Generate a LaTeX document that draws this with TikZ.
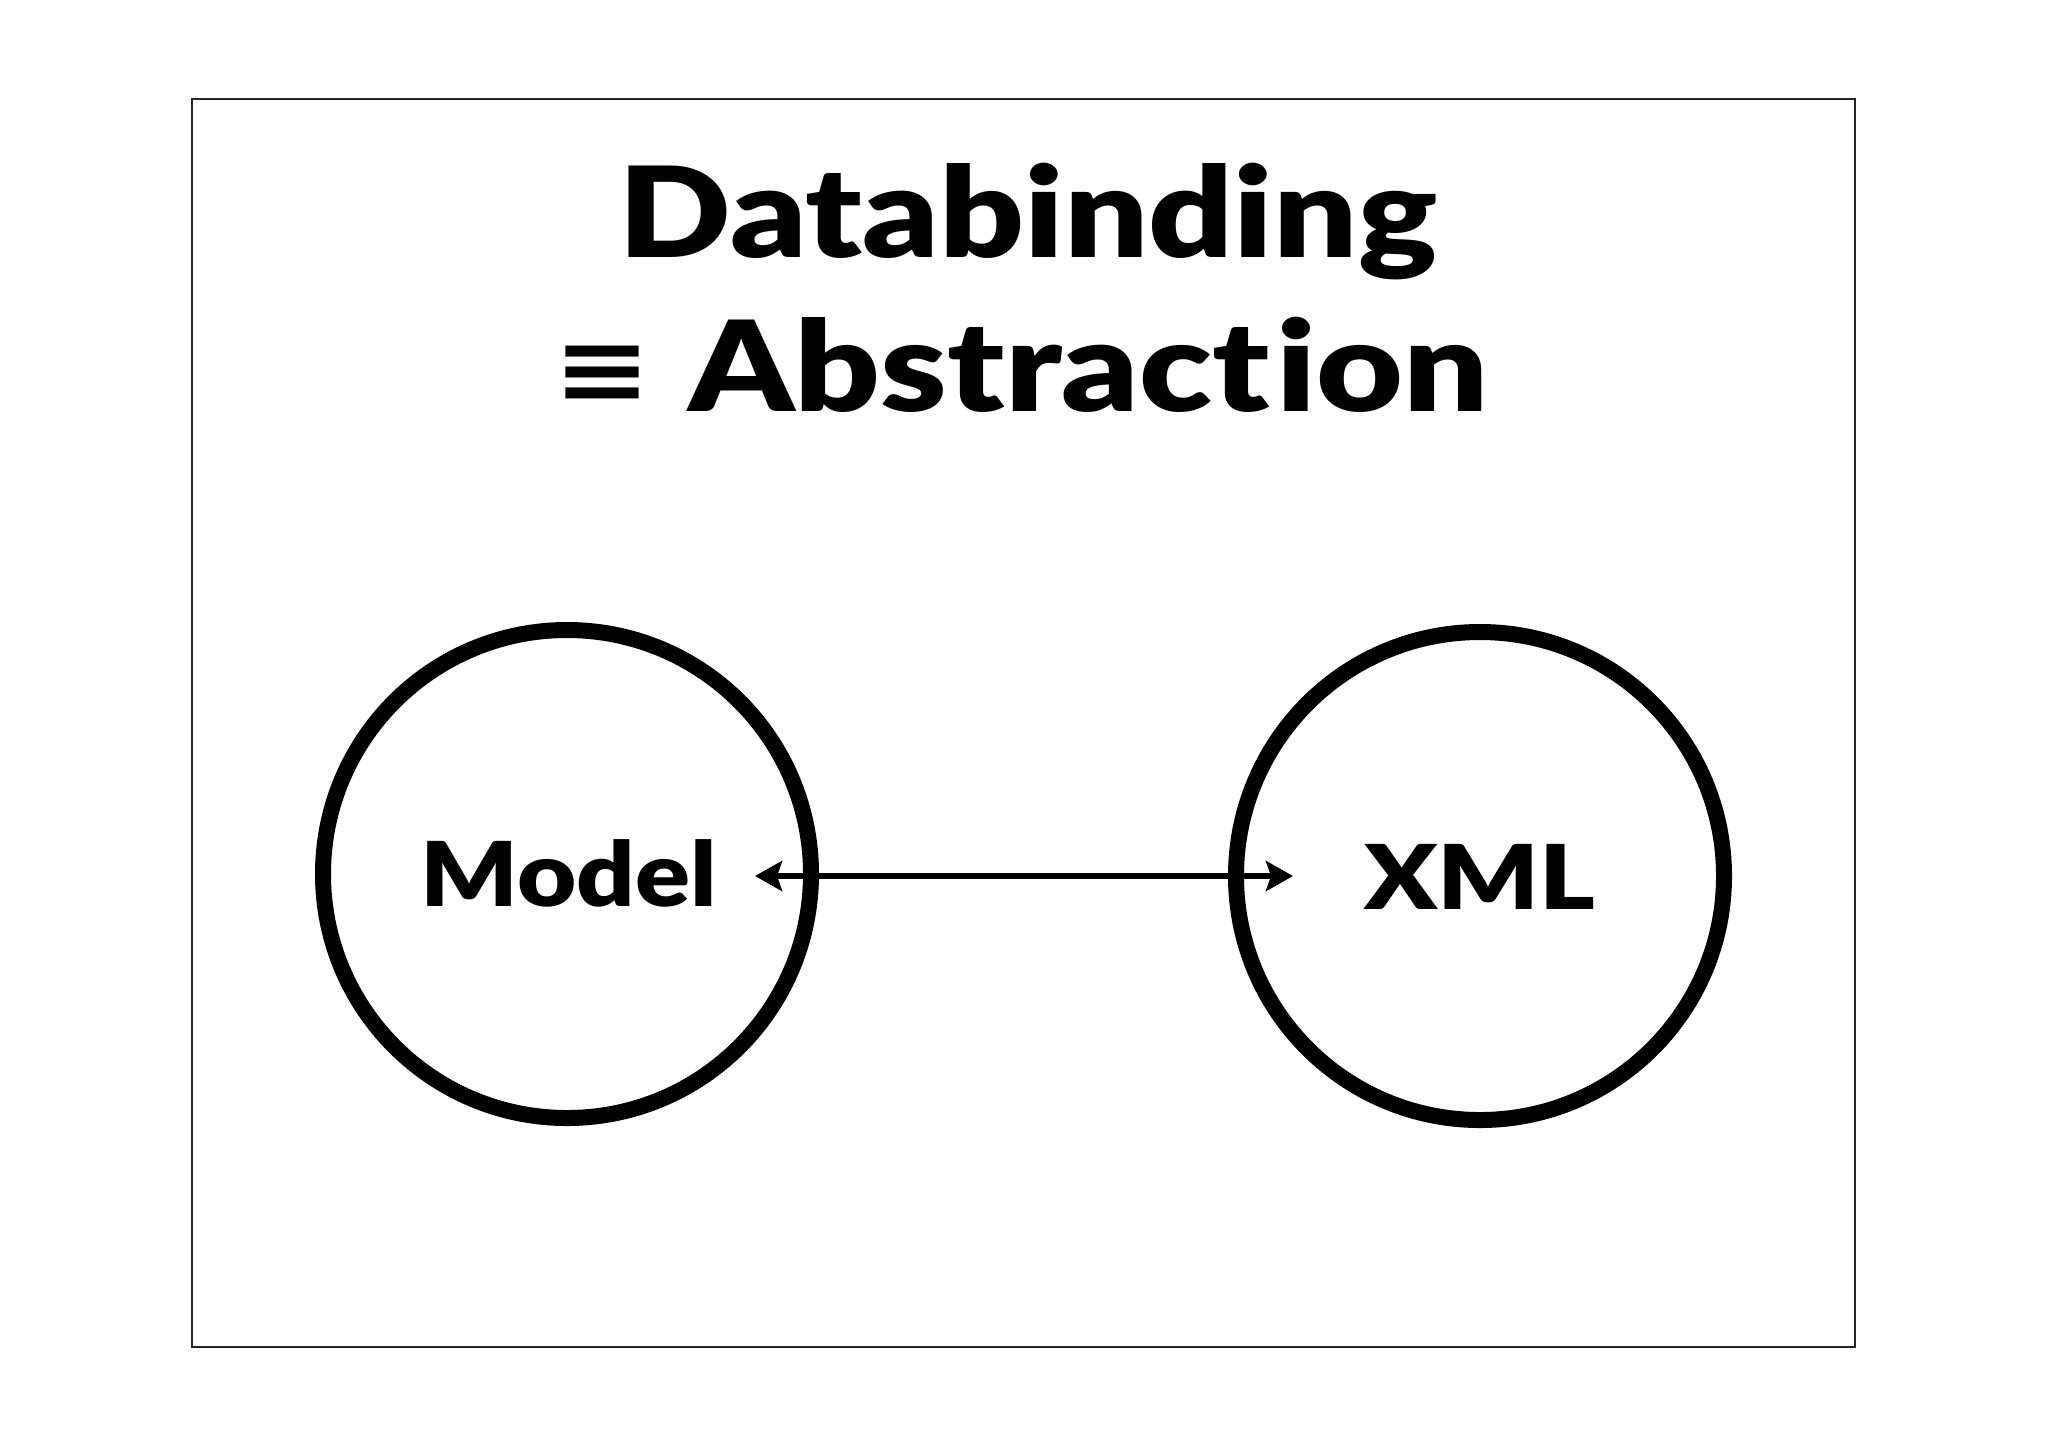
\documentclass[tikz,border=0pt]{standalone}
\usepackage{fontspec}
\usepackage{graphicx}
\usetikzlibrary{arrows.meta}
\newfontfamily\heavyfont{Lato Black}[Ligatures=NoCommon,Contextuals=NoAlternate]
\newfontfamily\symfont{DejaVu Sans Bold}
\tikzset{
  bigcircle/.style={circle, draw=black, line width=8pt, minimum size=244pt, inner sep=0pt},
  frame/.style={draw=black!85, line width=1pt},
  lbl/.style={inner sep=0pt, outer sep=0pt, text=black},
  arr/.style={line width=3.4pt, {Stealth[length=13.5pt,width=15pt,inset=2.5pt]}-{Stealth[length=13.5pt,width=15pt,inset=2.5pt]}}
}
\begin{document}
\begin{tikzpicture}[x=0.5pt,y=-0.5pt]
\useasboundingbox (0,0) rectangle (2048,1447);
\fill[white] (0,0) rectangle (2048,1447);
\draw[frame] (192,99) rectangle (1855,1347);
% title
\node[lbl, anchor=base] (title1) at (1028,257.3)
  {\resizebox{409pt}{\height}{\heavyfont\fontsize{62.8pt}{70pt}\selectfont Databinding}};
\node[lbl, anchor=center] (equiv) at (602,374)
  {\resizebox{49pt}{28.2pt}{\symfont ≡}};
\node[lbl, anchor=base] (title2) at (1088.5,411.4)
  {\resizebox{400pt}{\height}{\heavyfont\fontsize{62.8pt}{70pt}\selectfont Abstract\kern3pt ion}};
% circles
\node[bigcircle] (model) at (567,874) {};
\node[bigcircle] (xml) at (1480,876) {};
\node[lbl, anchor=base] (modeltxt) at (568.8,906.4)
  {\resizebox{148pt}{\height}{\heavyfont\fontsize{44.7pt}{50pt}\selectfont Model}};
\node[lbl, anchor=base] (xmltxt) at (1479.8,909)
  {\resizebox{115.6pt}{\height}{\heavyfont\fontsize{44.7pt}{50pt}\selectfont XML}};
% connector
\coordinate (la) at (755,876);
\coordinate (ra) at (1293,876);
\draw[arr] (la) -- (ra);
\end{tikzpicture}
\end{document}
